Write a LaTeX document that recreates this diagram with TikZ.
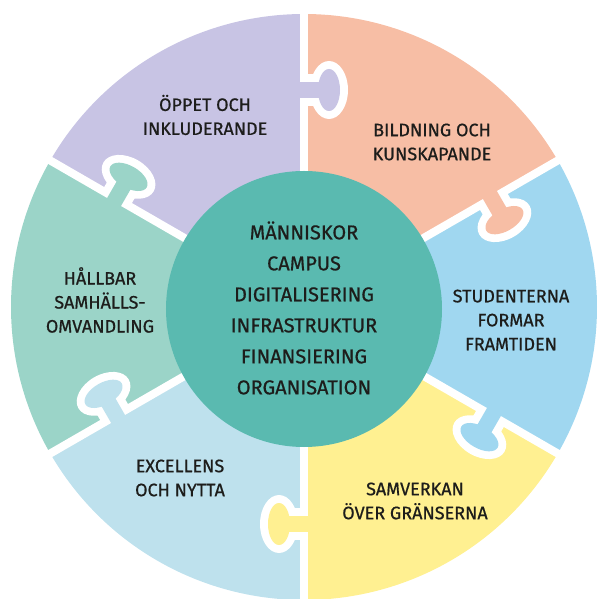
\documentclass[tikz,border=0pt]{standalone}
\usepackage{fontspec}
\setmainfont{Fira Sans}
\newfontfamily\puzzlefont{Fira Sans}[FakeBold=0.7]
\definecolor{lilapiece}{RGB}{200, 196, 228}
\definecolor{laxpiece}{RGB}{247, 190, 165}
\definecolor{himmelpiece}{RGB}{160, 215, 240}
\definecolor{gulpiece}{RGB}{255, 240, 145}
\definecolor{isblapiece}{RGB}{190, 225, 237}
\definecolor{mintpiece}{RGB}{155, 212, 200}
\definecolor{kärnteal}{RGB}{90, 186, 176}
\definecolor{textgray}{RGB}{29, 29, 27}
\usepackage{tikz}
\tikzset{
    gapline/.style={line width=8pt, white},
    piecetext/.style={align=center, text=textgray, font=\puzzlefont\fontsize{18}{24}\selectfont},
    coretext/.style={align=center, text=textgray, font=\puzzlefont\fontsize{20}{31}\selectfont},
}

\begin{document}
\begin{tikzpicture}[x=1pt, y=1pt]
    \useasboundingbox (-304,-292) rectangle (293,307);
    % the six pieces
    \fill[lilapiece] (0,0) -- (90:293) arc[start angle=90, end angle=150, radius=293] -- cycle;
    \fill[laxpiece] (0,0) -- (30:293) arc[start angle=30, end angle=90, radius=293] -- cycle;
    \fill[himmelpiece] (0,0) -- (-30:293) arc[start angle=-30, end angle=30, radius=293] -- cycle;
    \fill[gulpiece] (0,0) -- (-90:293) arc[start angle=-90, end angle=-30, radius=293] -- cycle;
    \fill[isblapiece] (0,0) -- (-150:293) arc[start angle=-150, end angle=-90, radius=293] -- cycle;
    \fill[mintpiece] (0,0) -- (150:293) arc[start angle=150, end angle=210, radius=293] -- cycle;
    % gaps between the pieces
    \foreach \ang in {90, 30, -30, -90, -150, 150}
        \draw[gapline] (0,0) -- (\ang:300);
    % tabs, each one pushed into the next piece clockwise
    \foreach \ang/\col in {90/lilapiece, 30/laxpiece, -30/himmelpiece, -90/gulpiece, -150/isblapiece, 150/mintpiece} {
        \begin{scope}[rotate=\ang]
            \fill[white] (201,-24) rectangle (233,0);
            \fill[white] (217,-25) ellipse[x radius=29, y radius=19];
            \fill[\col] (209,-24) rectangle (225,5);
            \fill[\col] (217,-25) ellipse[x radius=21, y radius=11];
        \end{scope}
    }
    % core
    \fill[kärnteal] (0,-2) circle[radius=138];
    \node[coretext] (core) at (0,-1) {MÄNNISKOR\\CAMPUS\\DIGITALISERING\\INFRASTRUKTUR\\FINANSIERING\\ORGANISATION};

    \node[piecetext] (oppet) at (-99,192) {ÖPPET OCH\\INKLUDERANDE};
    \node[piecetext] (bildning) at (128,165) {BILDNING OCH\\KUNSKAPANDE};
    \node[piecetext] (studenterna) at (207,-13) {STUDENTERNA\\FORMAR\\FRAMTIDEN};
    \node[piecetext] (samverkan) at (111,-194) {SAMVERKAN\\ÖVER GRÄNSERNA};
    \node[piecetext] (excellens) at (-124,-171) {EXCELLENS\\OCH NYTTA};
    \node[piecetext] (hallbar) at (-204,7) {HÅLLBAR\\SAMHÄLLS-\\OMVANDLING};
\end{tikzpicture}
\end{document}
